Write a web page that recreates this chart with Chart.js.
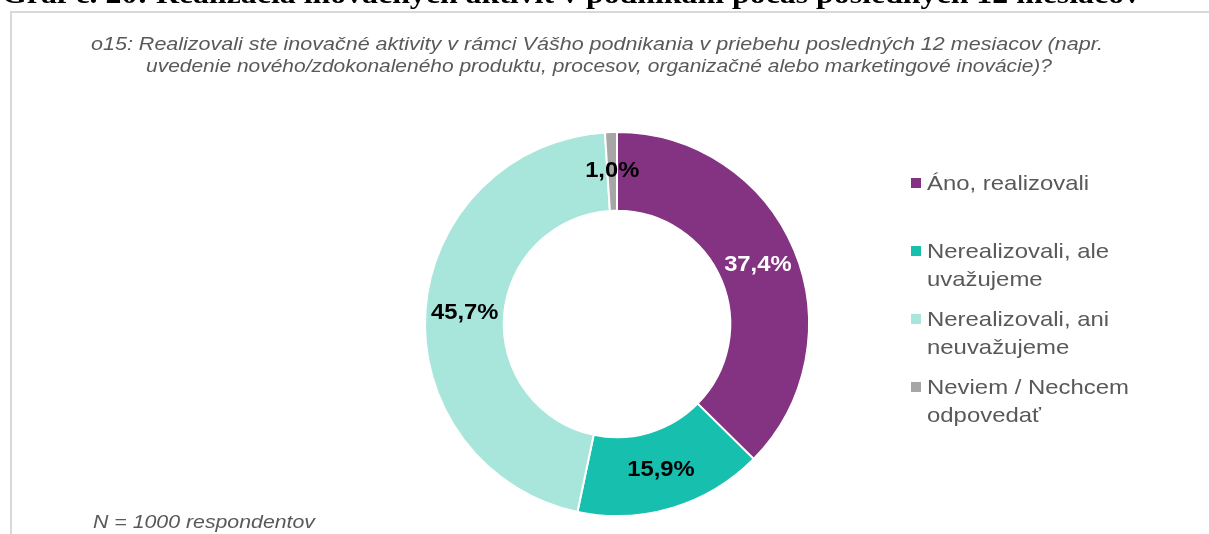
<!DOCTYPE html>
<html><head><meta charset="utf-8">
<script src="https://cdn.jsdelivr.net/npm/chart.js@4.4.1/dist/chart.umd.min.js"></script>
<style>
html,body{margin:0;padding:0;width:1209px;height:534px;overflow:hidden;background:#fff;}
#wrap{position:relative;width:1209px;height:534px;overflow:hidden;}
#frame{position:absolute;left:10px;top:11px;width:1300px;height:600px;border-left:2px solid #d9d9d9;border-top:2px solid #d9d9d9;box-sizing:border-box;}
#c{position:absolute;left:0;top:0;}
.t{position:absolute;white-space:nowrap;transform-origin:0 0;line-height:1;}
.sans{font-family:"Liberation Sans",Arial,sans-serif;}
.serif{font-family:"Liberation Serif","Times New Roman",serif;}
.sq{position:absolute;width:10px;height:10px;}
</style></head><body>
<div id="wrap">
<div id="frame"></div>
<canvas id="c" width="1209" height="534"></canvas>
</div>
<script>
// ---- data ----
const titleText = 'Graf č. 20: Realizácia inovačných aktivít v podnikaní počas posledných 12 mesiacov';
const subtitleLines = [
  'o15:  Realizovali ste inovačné aktivity v rámci Vášho podnikania v priebehu posledných 12 mesiacov (napr.',
  'uvedenie nového/zdokonaleného produktu, procesov, organizačné alebo marketingové inovácie)?'
];
const footnote = 'N = 1000 respondentov';
const categories = [
  ['Áno, realizovali'],
  ['Nerealizovali, ale', 'uvažujeme'],
  ['Nerealizovali, ani', 'neuvažujeme'],
  ['Neviem / Nechcem', 'odpovedať']
];
const values = [37.4, 15.9, 45.7, 1.0];
const colors = ['#833382', '#17BFAE', '#A8E6DC', '#A6A6A6'];
const labelColors = ['#ffffff', '#000000', '#000000', '#000000'];

// ---- text helpers ----
const wrap = document.getElementById('wrap');
function addText(txt, cls, opts){
  const d = document.createElement('div');
  d.className = 't ' + cls;
  d.textContent = txt;
  d.style.fontSize = opts.size + 'px';
  if (opts.weight) d.style.fontWeight = opts.weight;
  if (opts.italic) d.style.fontStyle = 'italic';
  d.style.color = opts.color || '#000';
  d.style.left = opts.left + 'px';
  const asc = cls === 'serif' ? 0.8375 : 0.8465;
  d.style.top = (opts.baseline - asc * opts.size) + 'px';
  wrap.appendChild(d);
  if (opts.width){
    const w = d.getBoundingClientRect().width;
    d.style.transform = 'scaleX(' + (opts.width / w) + ')';
  } else if (opts.scale){
    d.style.transform = 'scaleX(' + opts.scale + ')';
  }
  return d;
}

addText(titleText, 'serif', {size:28, weight:'bold', left:2, baseline:3, width:1138, color:'#000'});
addText(subtitleLines[0], 'sans', {size:17.5, italic:true, left:91, baseline:51, width:1012, color:'#595959'});
addText(subtitleLines[1], 'sans', {size:17.5, italic:true, left:146, baseline:73, width:906, color:'#595959'});
addText(footnote, 'sans', {size:18, italic:true, left:93, baseline:528, width:222, color:'#595959'});

// legend
(function(){
  const probe = addText('Neviem / Nechcem', 'sans', {size:21, left:0, baseline:-100, color:'#fff'});
  const pw = probe.getBoundingClientRect().width;
  probe.remove();
  const sc = 202 / pw;
  categories.forEach((lines, i) => {
    const b0 = 190 + i * 68;
    const sq = document.createElement('div');
    sq.className = 'sq';
    sq.style.background = colors[i];
    sq.style.left = '911px';
    sq.style.top = (b0 - 12) + 'px';
    wrap.appendChild(sq);
    lines.forEach((ln, j) => {
      addText(ln, 'sans', {size:21, left:927, baseline:b0 + j * 28, scale:sc, color:'#595959'});
    });
  });
})();

// ---- chart ----
const valueLabels = {
  id: 'valueLabels',
  afterDatasetsDraw(chart){
    const ctx = chart.ctx;
    const meta = chart.getDatasetMeta(0);
    ctx.save();
    ctx.font = 'bold 22px "Liberation Sans", Arial, sans-serif';
    ctx.textAlign = 'center';
    ctx.textBaseline = 'middle';
    meta.data.forEach((arc, i) => {
      const p = arc.getCenterPoint();
      const txt = values[i].toFixed(1).replace('.', ',') + '%';
      ctx.fillStyle = labelColors[i];
      ctx.save();
      ctx.translate(p.x, p.y);
      ctx.scale(1.08, 1);
      ctx.fillText(txt, 0, 0);
      ctx.restore();
    });
    ctx.restore();
  }
};

new Chart(document.getElementById('c'), {
  type: 'doughnut',
  data: {
    labels: categories,
    datasets: [{
      data: values,
      backgroundColor: colors,
      borderColor: '#ffffff',
      borderWidth: 2
    }]
  },
  options: {
    responsive: false,
    animation: false,
    devicePixelRatio: 1,
    cutout: '59%',
    layout: { padding: { left: 424, right: 399, top: 131, bottom: 17 } },
    plugins: { legend: { display: false }, tooltip: { enabled: false } }
  },
  plugins: [valueLabels]
});
</script>
</body></html>
